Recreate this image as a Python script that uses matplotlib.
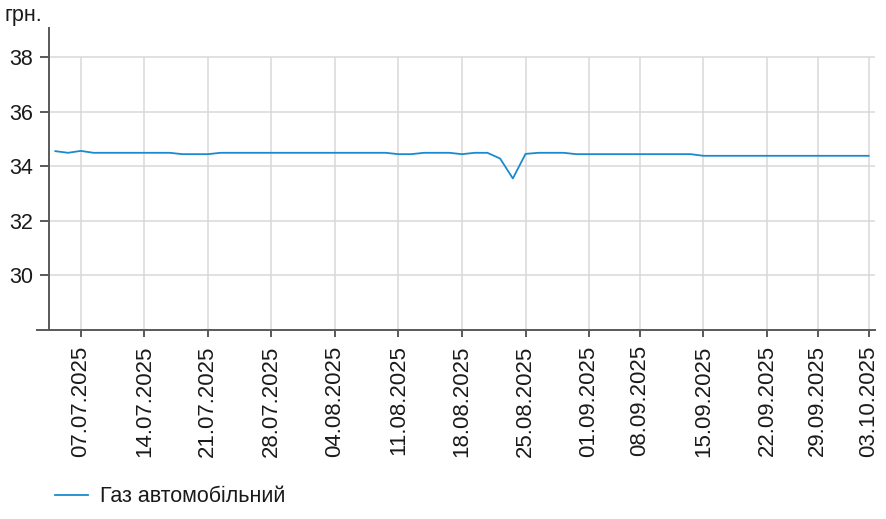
import pandas as pd
import matplotlib
matplotlib.use('Agg')
import matplotlib.pyplot as plt

plt.rcParams['font.family'] = ['Liberation Sans', 'DejaVu Sans']

# business days 03.07.2025 - 03.10.2025, two days without data
missingDays = ['2025-09-05', '2025-09-26']
dates = [d for d in pd.bdate_range('2025-07-03', '2025-10-03') if d.strftime('%Y-%m-%d') not in missingDays]

gasPrice = [
    34.55, 34.49, 34.56, 34.49, 34.49, 34.49, 34.49, 34.49, 34.49, 34.49,
    34.44, 34.44, 34.44, 34.49, 34.49, 34.49, 34.49, 34.49, 34.49, 34.49,
    34.49, 34.49, 34.49, 34.49, 34.49, 34.49, 34.49, 34.44, 34.44, 34.49,
    34.49, 34.49, 34.44, 34.49, 34.49, 34.28, 33.55, 34.45, 34.49, 34.49,
    34.49, 34.44, 34.44, 34.44, 34.44, 34.44, 34.44, 34.44, 34.44, 34.44,
    34.44, 34.38, 34.38, 34.38, 34.38, 34.38, 34.38, 34.38, 34.38, 34.38,
    34.38, 34.38, 34.38, 34.38, 34.38,
]
seriesName = 'Газ автомобільний'
unitLabel = 'грн.'

tickLabels = ['07.07.2025', '14.07.2025', '21.07.2025', '28.07.2025', '04.08.2025',
              '11.08.2025', '18.08.2025', '25.08.2025', '01.09.2025', '08.09.2025',
              '15.09.2025', '22.09.2025', '29.09.2025', '03.10.2025']
yTicks = [30, 32, 34, 36, 38]

dateLabels = [d.strftime('%d.%m.%Y') for d in dates]
x = list(range(len(dates)))
tickPos = [dateLabels.index(t) for t in tickLabels]

axisColor = '#595959'
gridColor = '#d9d9d9'
lineColor = '#1a8ad0'

fig = plt.figure(figsize=(8.87, 5.19), dpi=100)
ax = fig.add_axes([49 / 887, 1 - 330 / 519, 826 / 887, 301.7 / 519])

ax.set_xlim(-0.5, len(dates) - 0.5)
ax.set_ylim(28, 39.05)

ax.set_yticks(yTicks)
ax.yaxis.grid(True, color=gridColor, linewidth=1.1)
ax.vlines(tickPos, 28, yTicks[-1], color=gridColor, linewidth=1.1, zorder=0)
ax.set_axisbelow(True)

ax.plot(x, gasPrice, color=lineColor, linewidth=1.3, label=seriesName)

ax.set_xticks(tickPos)
ax.set_xticklabels(tickLabels, rotation=90)

for side in ['top', 'right']:
    ax.spines[side].set_visible(False)
for side in ['left', 'bottom']:
    ax.spines[side].set_color(axisColor)
    ax.spines[side].set_linewidth(1.4)
# bottom axis line sticks out to the left a bit
ax.plot([-12 / 826, 0], [0, 0], transform=ax.transAxes, color=axisColor, linewidth=1.4, clip_on=False)

ax.tick_params(axis='y', length=6.5, width=1.4, color=axisColor, pad=5, labelsize=15.5, labelcolor='#1a1a1a')
ax.tick_params(axis='x', length=5, width=1.4, color=axisColor, pad=6, labelsize=16, labelcolor='#1a1a1a')

fig.text(5 / 887, 1 - 16 / 519, unitLabel, fontsize=15.5, color='#1a1a1a', ha='left', va='center')

fig.legend(loc='center left', bbox_to_anchor=(55 / 887, 1 - 497 / 519), frameon=False,
           fontsize=15.5, handlelength=1.55, handletextpad=0.55, borderpad=0, borderaxespad=0,
           labelcolor='#1a1a1a')

fig.savefig('out.png', dpi=100)
